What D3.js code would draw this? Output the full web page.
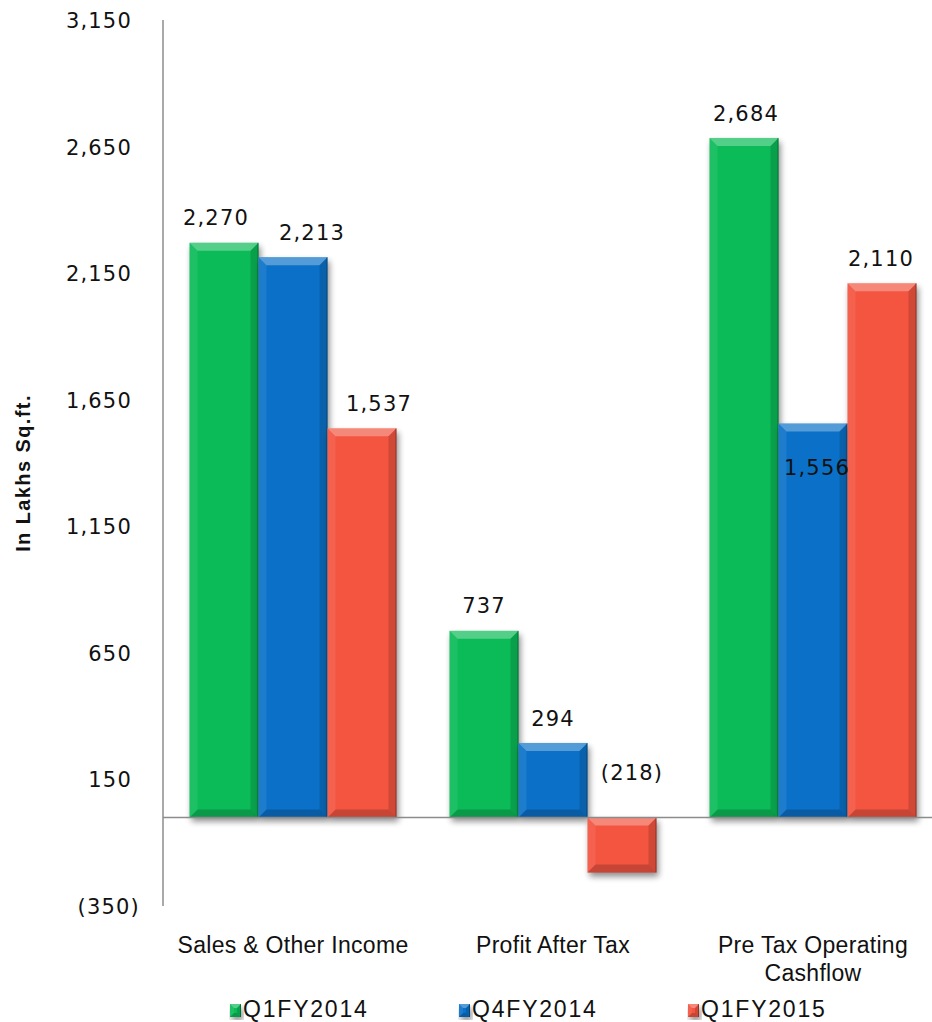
<!DOCTYPE html>
<html>
<head>
<meta charset="utf-8">
<script src="https://cdn.jsdelivr.net/npm/d3@7/dist/d3.min.js"></script>
<style>
  html, body { margin: 0; padding: 0; background: #fff; }
  svg { display: block; }
</style>
</head>
<body>
<svg id="chart" width="932" height="1022"></svg>
<script>
// ---- Data ----
const categories = ["Sales & Other Income", "Profit After Tax", "Pre Tax Operating Cashflow"];
const seriesNames = ["Q1FY2014", "Q4FY2014", "Q1FY2015"];
const q1fy2014 = [2270, 737, 2684];
const q4fy2014 = [2213, 294, 1556];
const q1fy2015 = [1537, -218, 2110];
const yTicks = [-350, 150, 650, 1150, 1650, 2150, 2650, 3150];
const yTitle = "In Lakhs Sq.ft.";

// ---- Styling / layout ----
const colors = ["#0BBB58", "#0B71C8", "#F35541"];
const W = 932, H = 1022;
const plotLeft = 163, plotRight = 943, plotTop = 20, plotBottom = 906;

const svg = d3.select("#chart");
const defs = svg.append("defs");
const f = defs.append("filter").attr("id", "shadow")
  .attr("x", "-20%").attr("y", "-20%").attr("width", "140%").attr("height", "140%");
f.append("feGaussianBlur").attr("in", "SourceAlpha").attr("stdDeviation", 3);
f.append("feOffset").attr("dx", 2).attr("dy", 4).attr("result", "ob");
f.append("feComponentTransfer").append("feFuncA").attr("type", "linear").attr("slope", 0.45);

const series = [q1fy2014, q4fy2014, q1fy2015];
const table = categories.map((c, i) => ({ cat: c, vals: series.map(s => s[i]) }));

const x0 = d3.scaleBand().domain(categories).range([plotLeft, plotRight]).paddingInner(0.204).paddingOuter(0.102);
const x1 = d3.scaleBand().domain(seriesNames).range([0, x0.bandwidth()]).padding(0);
const y = d3.scaleLinear().domain([-350, 3150]).range([plotBottom, plotTop]);

const numFmt = v => v < 0 ? "(" + d3.format(",")(-v) + ")" : d3.format(",")(v);

// axis line
svg.append("line").attr("x1", plotLeft).attr("x2", plotLeft).attr("y1", y(3150)).attr("y2", y(-350))
  .attr("stroke", "#8c8c8c").attr("stroke-width", 1.5);

// y ticks
const yAxis = d3.axisLeft(y).tickValues(yTicks).tickSize(0).tickPadding(0).tickFormat(numFmt);
const ga = svg.append("g").attr("transform", `translate(132,0)`).call(yAxis);
ga.select(".domain").remove();
ga.selectAll("text")
  .attr("font-family", "DejaVu Sans, sans-serif").attr("font-size", 21)
  .attr("letter-spacing", 1.2).attr("fill", "#111")
  .attr("dy", "0.36em")
  .attr("dx", d => d < 0 ? 8 : 0);

// y title
svg.append("text")
  .attr("transform", `translate(30,${(plotTop + plotBottom) / 2 + 10}) rotate(-90)`)
  .attr("text-anchor", "middle")
  .attr("font-family", "Liberation Sans, Arial, sans-serif")
  .attr("font-weight", "bold").attr("font-size", 20).attr("letter-spacing", 1.4)
  .attr("fill", "#111").text(yTitle);

// bevelled bar
function bevelBar(g, bx, by, bw, bh, color, bev) {
  const b = Math.min(bev, bh / 2, bw / 2);
  g.append("rect").attr("x", bx).attr("y", by).attr("width", bw).attr("height", bh)
    .attr("fill", "#000").attr("filter", "url(#shadow)");
  g.append("rect").attr("x", bx).attr("y", by).attr("width", bw).attr("height", bh).attr("fill", color);
  const poly = pts => g.append("polygon").attr("points", pts.map(p => p.join(",")).join(" "));
  poly([[bx, by], [bx + bw, by], [bx + bw - b, by + b], [bx + b, by + b]]).attr("fill", "#fff").attr("opacity", 0.3);
  poly([[bx, by + bh], [bx + bw, by + bh], [bx + bw - b, by + bh - b], [bx + b, by + bh - b]]).attr("fill", "#000").attr("opacity", 0.18);
  poly([[bx, by], [bx + b, by + b], [bx + b, by + bh - b], [bx, by + bh]]).attr("fill", "#fff").attr("opacity", 0.08);
  poly([[bx + bw, by], [bx + bw - b, by + b], [bx + bw - b, by + bh - b], [bx + bw, by + bh]]).attr("fill", "#000").attr("opacity", 0.14);
  g.append("line").attr("x1", bx + bw - 0.5).attr("x2", bx + bw - 0.5).attr("y1", by).attr("y2", by + bh)
    .attr("stroke", "#000").attr("stroke-opacity", 0.3).attr("stroke-width", 1);
}

// bars
const barsG = svg.append("g");
table.forEach(row => {
  row.vals.forEach((v, si) => {
    const bx = x0(row.cat) + x1(seriesNames[si]);
    const by = Math.min(y(v), y(0));
    const bh = Math.abs(y(v) - y(0));
    bevelBar(barsG.append("g"), bx, by, x1.bandwidth(), bh, colors[si], 8);
  });
});

// zero line
svg.append("line").attr("x1", plotLeft).attr("x2", W).attr("y1", y(0)).attr("y2", y(0))
  .attr("stroke", "#8c8c8c").attr("stroke-width", 1.5);

// data labels (small horizontal nudges as in the original label placement)
const labelNudge = [[-8, 19, 17], [0, 0, 10], [2, 4, -1]];
const insideLabel = [[false, false, false], [false, false, false], [false, true, false]];
const labG = svg.append("g");
table.forEach((row, ci) => {
  row.vals.forEach((v, si) => {
    const cx = x0(row.cat) + x1(seriesNames[si]) + x1.bandwidth() / 2 + labelNudge[ci][si];
    let cy;
    if (v < 0) cy = y(0) - 45;
    else if (insideLabel[ci][si]) cy = y(v) + 44;
    else cy = y(v) - 25;
    labG.append("text").attr("x", cx).attr("y", cy).attr("dy", "0.36em")
      .attr("text-anchor", "middle")
      .attr("font-family", "DejaVu Sans, sans-serif").attr("font-size", 21)
      .attr("letter-spacing", 1.2).attr("fill", "#111").text(numFmt(v));
  });
});

// category labels
const catLines = { "Pre Tax Operating Cashflow": ["Pre Tax Operating", "Cashflow"] };
categories.forEach(c => {
  const lines = catLines[c] || [c];
  const t = svg.append("text").attr("text-anchor", "middle")
    .attr("font-family", "Liberation Sans, Arial, sans-serif").attr("font-size", 23)
    .attr("letter-spacing", 0.3).attr("fill", "#111");
  lines.forEach((ln, i) => {
    t.append("tspan").attr("x", x0(c) + x0.bandwidth() / 2).attr("y", 953 + i * 28).text(ln);
  });
});

// legend
const legG = svg.append("g");
seriesNames.forEach((s, i) => {
  const lx = 230 + i * 229;
  bevelBar(legG.append("g"), lx, 1004, 11, 13, colors[i], 4);
  legG.append("text").attr("x", lx + 13).attr("y", 1017)
    .attr("font-family", "Liberation Sans, Arial, sans-serif").attr("font-size", 23)
    .attr("letter-spacing", 1.8).attr("fill", "#111").text(s);
});
</script>
</body>
</html>
